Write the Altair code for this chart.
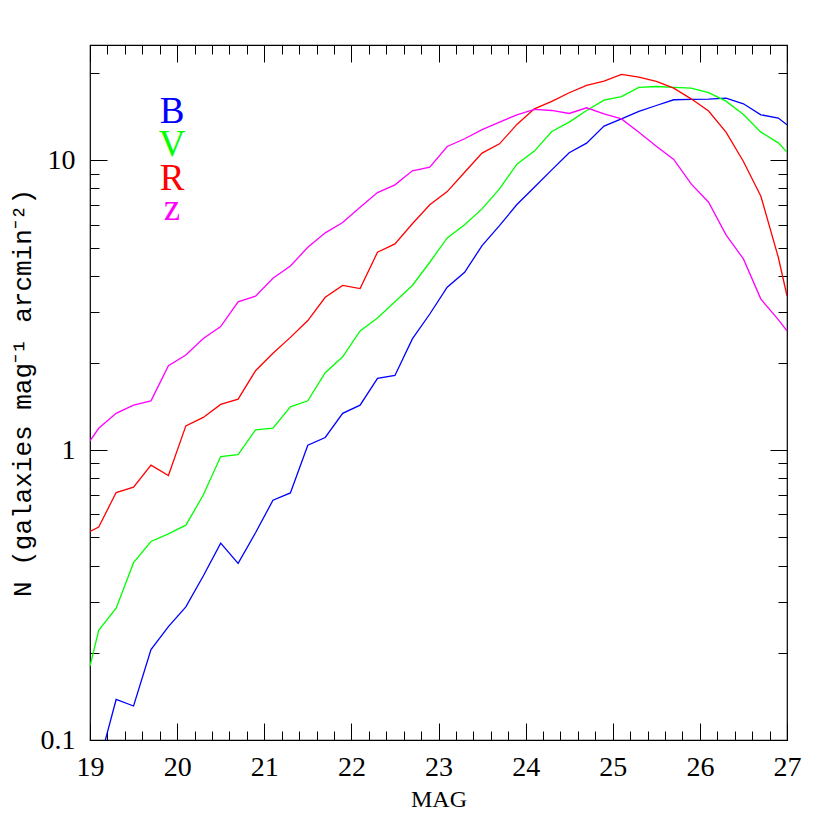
import altair as alt
import pandas as pd

# magnitude grid (bin centres; first/last entries are the curve ends at the frame)
MAG = [19.0, 19.1, 19.3, 19.5, 19.7, 19.9, 20.1, 20.3, 20.5, 20.7, 20.9,
       21.1, 21.3, 21.5, 21.7, 21.9, 22.1, 22.3, 22.5, 22.7, 22.9,
       23.1, 23.3, 23.5, 23.7, 23.9, 24.1, 24.3, 24.5, 24.7, 24.9,
       25.1, 25.3, 25.5, 25.7, 25.9, 26.1, 26.3, 26.5, 26.7, 26.9, 27.0]

B = [None, 0.082, 0.138, 0.131, 0.205, 0.246, 0.288, 0.368, 0.478, 0.407, 0.519,
     0.672, 0.712, 1.04, 1.106, 1.34, 1.43, 1.77, 1.81, 2.42, 2.95,
     3.65, 4.11, 5.08, 5.95, 7.04, 8.08, 9.27, 10.62, 11.46, 13.12,
     13.9, 14.75, 15.46, 16.18, 16.22, 16.26, 16.40, 15.67, 14.36, 13.99, 13.27]

V = [0.180, 0.239, 0.285, 0.409, 0.484, 0.514, 0.551, 0.700, 0.951, 0.966, 1.175,
     1.191, 1.41, 1.48, 1.85, 2.10, 2.58, 2.86, 3.25, 3.70, 4.45,
     5.40, 5.99, 6.80, 7.97, 9.70, 10.76, 12.58, 13.55, 14.86, 16.14,
     16.6, 17.84, 17.98, 17.84, 17.75, 17.11, 16.0, 14.39, 12.51, 11.49, 10.67]

R = [0.524, 0.543, 0.714, 0.745, 0.888, 0.818, 1.213, 1.297, 1.439, 1.50, 1.88,
     2.16, 2.45, 2.80, 3.37, 3.70, 3.61, 4.82, 5.15, 6.04, 7.03,
     7.80, 9.10, 10.59, 11.40, 13.3, 15.06, 15.97, 17.11, 18.13, 18.78,
     19.78, 19.37, 18.71, 17.75, 16.3, 14.79, 12.51, 9.91, 7.52, 4.63, 3.41]

Z = [1.077, 1.19, 1.34, 1.43, 1.48, 1.955, 2.13, 2.43, 2.67, 3.25, 3.40,
     3.92, 4.32, 5.01, 5.62, 6.10, 6.89, 7.74, 8.23, 9.20, 9.48,
     11.16, 11.87, 12.77, 13.55, 14.36, 14.99, 14.86, 14.51, 15.18, 14.47,
     13.9, 12.51, 11.19, 10.07, 8.29, 7.17, 5.53, 4.57, 3.32, 2.82, 2.58]

BANDS = ["B", "V", "R", "z"]
COLORS = ["#0000ff", "#00ff00", "#ff0000", "#ff00ff"]
SERIES = [B, V, R, Z]

X_MAJOR = [19, 20, 21, 22, 23, 24, 25, 26, 27]
X_MINOR = [round(19 + 0.2 * i, 1) for i in range(41) if i % 5 != 0]
Y_MAJOR = [0.1, 1, 10]
Y_MINOR = [0.2, 0.3, 0.4, 0.5, 0.6, 0.7, 0.8, 0.9, 2, 3, 4, 5, 6, 7, 8, 9, 20]

# legend label baselines (pixels from the top of the plot area)
LEGEND_BASELINE = [78, 111, 145, 175]

rows = []
for band, vals in zip(BANDS, SERIES):
    for m, v in zip(MAG, vals):
        if v is not None:
            rows.append({"mag": m, "n": v, "band": band})
df = pd.DataFrame(rows)

xscale = alt.Scale(domain=[19, 27], nice=False, zero=False)
yscale = alt.Scale(type="log", domain=[0.1, 25], nice=False)

MAJ, MIN = 17, 9

axis_specs = [
    (alt.Axis(orient="bottom", values=X_MAJOR, tickSize=MAJ, offset=-MAJ, labels=True,
              title="MAG", labelPadding=13, titlePadding=6, format="d",
              titleFont="Liberation Serif", titleFontSize=24),
     alt.Axis(orient="left", values=Y_MAJOR, tickSize=MAJ, offset=-MAJ, labels=True,
              title="N (galaxies mag⁻¹ arcmin⁻²)", labelPadding=15, titlePadding=5,
              format="~g", titleFont="Liberation Mono", titleFontSize=26)),
    (alt.Axis(orient="bottom", values=X_MINOR, tickSize=MIN, offset=-MIN, labels=False, title=""),
     alt.Axis(orient="left", values=Y_MINOR, tickSize=MIN, offset=-MIN, labels=False, title="")),
    (alt.Axis(orient="top", values=X_MAJOR, tickSize=MAJ, offset=-MAJ, labels=False, title=""),
     alt.Axis(orient="right", values=Y_MAJOR, tickSize=MAJ, offset=-MAJ, labels=False, title="")),
    (alt.Axis(orient="top", values=X_MINOR, tickSize=MIN, offset=-MIN, labels=False, title=""),
     alt.Axis(orient="right", values=Y_MINOR, tickSize=MIN, offset=-MIN, labels=False, title="")),
]

layers = []
for band, color, (ax, ay) in zip(BANDS, COLORS, axis_specs):
    layers.append(
        alt.Chart(df).transform_filter(alt.datum.band == band)
        .mark_line(color=color, strokeWidth=1.3, clip=True)
        .encode(
            x=alt.X("mag:Q", scale=xscale, axis=ax),
            y=alt.Y("n:Q", scale=yscale, axis=ay),
            order="mag:Q",
        )
    )

for band, color, base in zip(BANDS, COLORS, LEGEND_BASELINE):
    layers.append(
        alt.Chart(pd.DataFrame({"band": [band]}))
        .mark_text(font="Liberation Serif", fontSize=37, color=color,
                   align="center", baseline="alphabetic")
        .encode(text="band:N", x=alt.value(82), y=alt.value(base))
    )

chart = (
    alt.layer(*layers)
    .resolve_axis(x="independent", y="independent")
    .properties(
        width=697, height=695,
        autosize=alt.AutoSizeParams(type="none"),
        padding={"left": 82, "top": 37, "right": 30, "bottom": 80},
        background="white",
    )
    .configure_view(stroke="black", strokeWidth=1.2)
    .configure_axis(
        grid=False, domain=False, tickColor="black", tickWidth=1,
        labelFont="Liberation Serif", labelFontSize=28, labelColor="black",
        labelFlush=False, labelOverlap=False, labelBound=False,
        titleFontWeight="normal", titleColor="black",
    )
)

chart.save("out.html", embed_options={"renderer": "svg", "actions": False})
